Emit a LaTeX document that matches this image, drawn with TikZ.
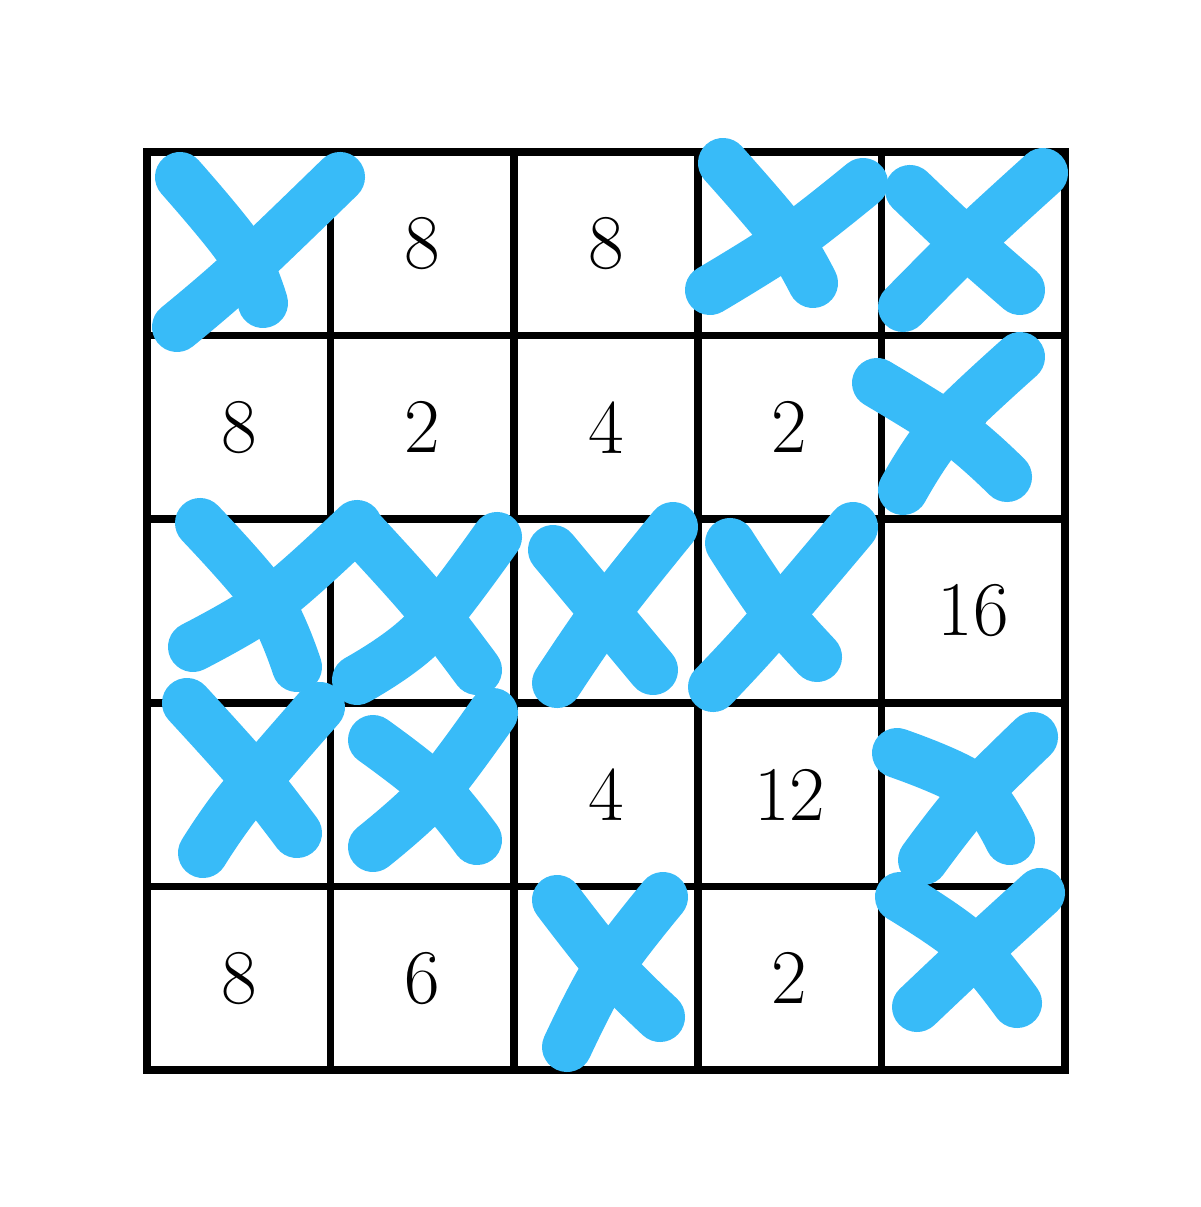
\documentclass[tikz,border=0pt]{standalone}
\usepackage{tikz}
\definecolor{xblue}{RGB}{56,187,248}
\tikzset{cross/.style = {xblue, line width = 0.5cm, line cap = round, line join = round}}
\tikzset{num/.style = {font = \fontsize{22}{26}\selectfont, inner sep = 0}}
\tikzset{gridline/.style = {line width = 2.2pt, line cap = rect}}

\begin{document}
\begin{tikzpicture}[x = 0.01cm, y = -0.01cm]
    \useasboundingbox (0, 0) rectangle (1200, 1207);

    % the grid
    \foreach \k in {0, ..., 5} {
      \draw [gridline] ({147 + 183.6*\k}, 152) -- ({147 + 183.6*\k}, 1070);
      \draw [gridline] (147, {152 + 183.6*\k}) -- (1065, {152 + 183.6*\k});
    }

    % the numbers (row/column/value)
    \foreach \r/\c/\v in {0/1/8, 0/2/8, 1/0/8, 1/1/2, 1/2/4, 1/3/2, 1/4/2,
                          2/4/16, 3/2/4, 3/3/12, 4/0/8, 4/1/6, 4/3/2}
      \node [num] (n-\r-\c) at ({147 + 183.6*(\c + 0.5)}, {152 + 183.6*(\r + 0.5)}) {\v};

    % crossed out cells
    \draw [cross] plot [smooth, tension = 0.6] coordinates {(180, 177) (240, 250) (263, 303)};
    \draw [cross] plot [smooth, tension = 0.6] coordinates {(177, 327) (240, 273) (340, 177)};

    \draw [cross] plot [smooth, tension = 0.6] coordinates {(723, 163) (783, 233) (813, 283)};
    \draw [cross] plot [smooth, tension = 0.6] coordinates {(710, 290) (790, 240) (863, 183)};

    \draw [cross] plot [smooth, tension = 0.6] coordinates {(910, 190) (963, 240) (1020, 290)};
    \draw [cross] plot [smooth, tension = 0.6] coordinates {(903, 307) (970, 240) (1043, 173)};

    \draw [cross] plot [smooth, tension = 0.6] coordinates {(877, 383) (957, 433) (1007, 477)};
    \draw [cross] plot [smooth, tension = 0.6] coordinates {(903, 490) (943, 430) (1020, 357)};

    \draw [cross] plot [smooth, tension = 0.6] coordinates {(200, 523) (267, 600) (297, 667)};
    \draw [cross] plot [smooth, tension = 0.6] coordinates {(193, 647) (273, 600) (357, 525)};

    \draw [cross] plot [smooth, tension = 0.6] coordinates {(357, 527) (423, 600) (477, 670)};
    \draw [cross] plot [smooth, tension = 0.6] coordinates {(357, 680) (423, 633) (497, 537)};

    \draw [cross] plot [smooth, tension = 0.6] coordinates {(553, 550) (603, 610) (653, 670)};
    \draw [cross] plot [smooth, tension = 0.6] coordinates {(557, 683) (607, 610) (673, 527)};

    \draw [cross] plot [smooth, tension = 0.6] coordinates {(730, 543) (773, 607) (817, 657)};
    \draw [cross] plot [smooth, tension = 0.6] coordinates {(713, 687) (763, 633) (853, 527)};

    \draw [cross] plot [smooth, tension = 0.6] coordinates {(187, 703) (250, 773) (297, 833)};
    \draw [cross] plot [smooth, tension = 0.6] coordinates {(203, 853) (240, 800) (320, 707)};

    \draw [cross] plot [smooth, tension = 0.6] coordinates {(373, 740) (433, 787) (477, 840)};
    \draw [cross] plot [smooth, tension = 0.6] coordinates {(373, 847) (433, 793) (493, 713)};

    \draw [cross] plot [smooth, tension = 0.6] coordinates {(897, 753) (973, 787) (1010, 840)};
    \draw [cross] plot [smooth, tension = 0.6] coordinates {(923, 860) (970, 800) (1033, 737)};

    \draw [cross] plot [smooth, tension = 0.6] coordinates {(557, 900) (610, 967) (660, 1017)};
    \draw [cross] plot [smooth, tension = 0.6] coordinates {(567, 1047) (607, 970) (663, 897)};

    \draw [cross] plot [smooth, tension = 0.6] coordinates {(900, 897) (967, 943) (1017, 1003)};
    \draw [cross] plot [smooth, tension = 0.6] coordinates {(917, 1007) (970, 957) (1040, 893)};
  \end{tikzpicture}
\end{document}
